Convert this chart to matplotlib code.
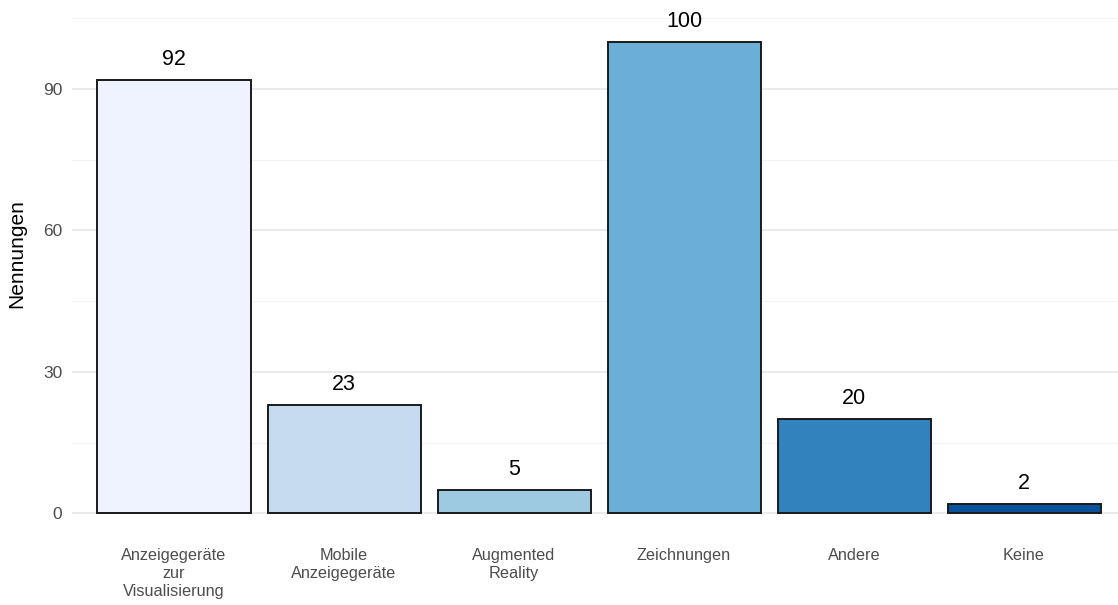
import matplotlib
matplotlib.use("Agg")
import matplotlib.pyplot as plt
import numpy as np

categories = ["Anzeigegeräte\nzur\nVisualisierung", "Mobile\nAnzeigegeräte", "Augmented\nReality",
              "Zeichnungen", "Andere", "Keine"]
values = [92, 23, 5, 100, 20, 2]
colors = ["#EFF3FF", "#C6DBEF", "#9ECAE1", "#6BAED6", "#3182BD", "#08519C"]
yticks = [0, 30, 60, 90]
yminor = [15, 45, 75, 105]

plt.rcParams['font.family'] = ['Liberation Sans', 'DejaVu Sans']

W, H = 1118, 605
fig = plt.figure(figsize=(W/100, H/100), dpi=100)
ax_left, ax_right = 72, 1126
ax_top, ax_bot = 0, 538
ax = fig.add_axes([ax_left/W, (H-ax_bot)/H, (ax_right-ax_left)/W, (ax_bot-ax_top)/H])

x = np.arange(len(categories))
ax.bar(x, values, width=0.9, color=colors, edgecolor="#1a1a1a", linewidth=1.4, zorder=3)
for xi, v in zip(x, values):
    ax.annotate(str(v), (xi, v), xytext=(0, 10.5), textcoords="offset points",
                ha="center", va="baseline", fontsize=15.5, color="black", zorder=4)

ax.set_xlim(-0.6, len(categories) - 0.4)
ax.set_ylim(-5.25, 108.9)
ax.set_yticks(yticks)
ax.set_yticks(yminor, minor=True)
ax.grid(axis="y", which="major", color="#e6e6e6", linewidth=1.1, zorder=0)
ax.grid(axis="y", which="minor", color="#f2f2f2", linewidth=0.8, zorder=0)
ax.set_xticks(x)
ax.set_xticklabels(categories, fontsize=11.7, color="#4d4d4d", linespacing=1.25)
ax.tick_params(axis="y", which="both", length=0, pad=7, labelsize=12.5, labelcolor="#4d4d4d")
ax.tick_params(axis="x", length=0, pad=7.5)
for s in ax.spines.values():
    s.set_visible(False)
ax.set_ylabel("Nennungen", fontsize=15, color="black")
ax.yaxis.set_label_coords(-0.043, 0.528)

fig.savefig("out.png", dpi=100)
